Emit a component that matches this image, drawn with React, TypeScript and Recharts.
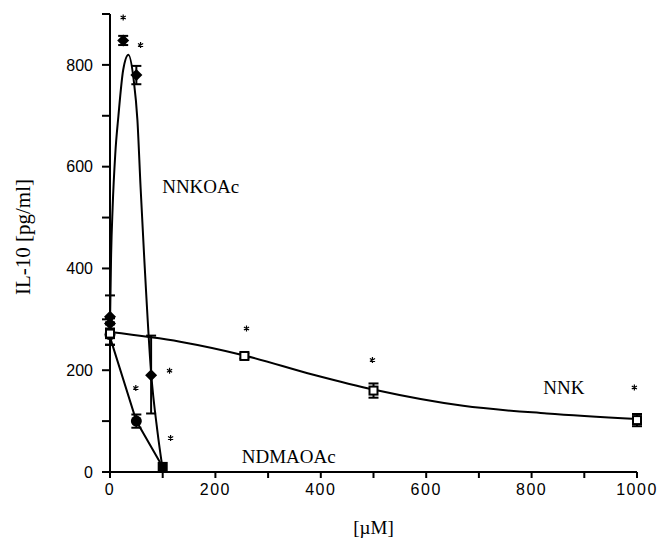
import {
  ComposedChart,
  ErrorBar,
  Line,
  Scatter,
  XAxis,
  YAxis,
} from "recharts";

// fitted curves
const nnkoacCurve = [
  { x: 0, y: 290 },
  { x: 2, y: 420 },
  { x: 5, y: 520 },
  { x: 10, y: 625 },
  { x: 16, y: 700 },
  { x: 25, y: 790 },
  { x: 35, y: 820 },
  { x: 45, y: 770 },
  { x: 52, y: 692 },
  { x: 58, y: 560 },
  { x: 65, y: 420 },
  { x: 78, y: 195 },
  { x: 90, y: 80 },
  { x: 100, y: 5 },
];
const ndmaoacCurve = [
  { x: 0, y: 265 },
  { x: 50, y: 100 },
  { x: 100, y: 10 },
];
const nnkCurve = [
  { x: 0, y: 275 },
  { x: 133, y: 256 },
  { x: 255, y: 229 },
  { x: 386, y: 191 },
  { x: 504, y: 161 },
  { x: 670, y: 130 },
  { x: 829, y: 115 },
  { x: 1000, y: 104 },
];

// measured points
const nnkoacPoints = [
  { x: 0, y: 305, err: 42 },
  { x: 0, y: 292, err: 10 },
  { x: 25, y: 848, err: 9 },
  { x: 50, y: 780, err: 18 },
  { x: 78, y: 190, err: [75, 78] },
];
const ndmaoacPoints = [
  { x: 0, y: 270, err: 20 },
  { x: 50, y: 100, err: 13 },
];
const ndmaoacSquare = [{ x: 100, y: 10, err: 4 }];
const nnkPoints = [
  { x: 0, y: 272, err: 22 },
  { x: 255, y: 228, err: 5 },
  { x: 500, y: 160, err: 14 },
  { x: 1000, y: 102, err: 12 },
];

// significance marks
const stars = [
  { x: 25, y: 893 },
  { x: 58, y: 839 },
  { x: 49, y: 165 },
  { x: 113, y: 199 },
  { x: 115, y: 67 },
  { x: 259, y: 282 },
  { x: 498, y: 220 },
  { x: 995, y: 166 },
];

const seriesLabels = [
  { x: 99, y: 562, name: "NNKOAc" },
  { x: 250, y: 31, name: "NDMAOAc" },
  { x: 822, y: 167, name: "NNK" },
];

const xTicks = [0, 100, 200, 300, 400, 500, 600, 700, 800, 900, 1000];
const yTicks = [0, 100, 200, 300, 400, 500, 600, 700, 800, 900];

const tickFont = {
  fill: "#000",
  fontFamily: "'Liberation Sans', Arial, sans-serif",
  fontSize: 16,
};
const serif = "'Liberation Serif', 'Times New Roman', serif";

function Diamond({ cx, cy }: any) {
  return (
    <path
      d={`M${cx},${cy - 6}L${cx + 6},${cy}L${cx},${cy + 6}L${cx - 6},${cy}Z`}
      fill="#000"
    />
  );
}

function Dot({ cx, cy }: any) {
  return <circle cx={cx} cy={cy} r={5.5} fill="#000" />;
}

function FilledSquare({ cx, cy }: any) {
  return <rect x={cx - 5} y={cy - 5} width={10} height={10} fill="#000" />;
}

function OpenSquare({ cx, cy }: any) {
  return (
    <rect
      x={cx - 4}
      y={cy - 4}
      width={8}
      height={8}
      fill="#fff"
      stroke="#000"
      strokeWidth={2}
    />
  );
}

function Star({ cx, cy }: any) {
  const r = 3;
  const a = r * 0.866;
  const b = r * 0.5;
  return (
    <path
      d={`M${cx},${cy - r}V${cy + r}M${cx - a},${cy - b}L${cx + a},${cy + b}M${cx - a},${cy + b}L${cx + a},${cy - b}`}
      stroke="#000"
      strokeWidth={1.2}
      fill="none"
    />
  );
}

function NameLabel({ cx, cy, payload }: any) {
  return (
    <text
      x={cx}
      y={cy}
      dominantBaseline="central"
      fontFamily={serif}
      fontSize={19}
      style={{ fill: "#000" }}
    >
      {payload.name}
    </text>
  );
}

function YTitle() {
  return (
    <text
      x={23}
      y={237}
      transform="rotate(-90, 23, 237)"
      textAnchor="middle"
      dominantBaseline="central"
      fontFamily={serif}
      fontSize={21}
      fill="#000"
    >
      IL-10 [pg/ml]
    </text>
  );
}

export default function App() {
  return (
    <div style={{ position: "absolute", left: 0, top: 0, background: "#fff" }}>
      <ComposedChart
        width={658}
        height={545}
        margin={{ top: 14, right: 21, bottom: 0, left: 0 }}
      >
        <XAxis
          type="number"
          dataKey="x"
          domain={[0, 1000]}
          ticks={xTicks}
          tickFormatter={(v) => (v % 200 === 0 ? String(v) : "")}
          tick={{ ...tickFont, letterSpacing: 1.5 }}
          tickSize={6}
          tickMargin={6}
          stroke="#000"
          strokeWidth={2}
          height={73}
          allowDuplicatedCategory={false}
          label={{
            value: "[µM]",
            position: "insideBottom",
            offset: 11,
            style: { fontFamily: serif, fontSize: 19, fill: "#000" },
          }}
        />
        <YAxis
          type="number"
          dataKey="y"
          domain={[0, 900]}
          ticks={yTicks}
          tickFormatter={(v) => (v % 200 === 0 ? String(v) : "")}
          tick={tickFont}
          tickSize={8}
          tickMargin={9}
          stroke="#000"
          strokeWidth={2}
          width={110}
          label={{ content: YTitle }}
        />
        <Line
          data={nnkoacCurve}
          dataKey="y"
          type="monotone"
          stroke="#000"
          strokeWidth={2}
          dot={false}
          isAnimationActive={false}
        />
        <Line
          data={ndmaoacCurve}
          dataKey="y"
          type="linear"
          stroke="#000"
          strokeWidth={2}
          dot={false}
          isAnimationActive={false}
        />
        <Line
          data={nnkCurve}
          dataKey="y"
          type="monotone"
          stroke="#000"
          strokeWidth={2}
          dot={false}
          isAnimationActive={false}
        />
        <Scatter
          data={nnkoacPoints}
          dataKey="y"
          fill="#000"
          shape={Diamond}
          isAnimationActive={false}
        >
          <ErrorBar
            dataKey="err"
            direction="y"
            width={5}
            stroke="#000"
            strokeWidth={2}
          />
        </Scatter>
        <Scatter
          data={ndmaoacPoints}
          dataKey="y"
          fill="#000"
          shape={Dot}
          isAnimationActive={false}
        >
          <ErrorBar
            dataKey="err"
            direction="y"
            width={5}
            stroke="#000"
            strokeWidth={2}
          />
        </Scatter>
        <Scatter
          data={ndmaoacSquare}
          dataKey="y"
          fill="#000"
          shape={FilledSquare}
          isAnimationActive={false}
        />
        <Scatter
          data={nnkPoints}
          dataKey="y"
          fill="#000"
          shape={OpenSquare}
          isAnimationActive={false}
        >
          <ErrorBar
            dataKey="err"
            direction="y"
            width={5}
            stroke="#000"
            strokeWidth={2}
          />
        </Scatter>
        <Scatter
          data={stars}
          dataKey="y"
          fill="#000"
          shape={Star}
          isAnimationActive={false}
        />
        <Scatter
          data={seriesLabels}
          dataKey="y"
          fill="#000"
          shape={NameLabel}
          isAnimationActive={false}
        />
      </ComposedChart>
    </div>
  );
}
